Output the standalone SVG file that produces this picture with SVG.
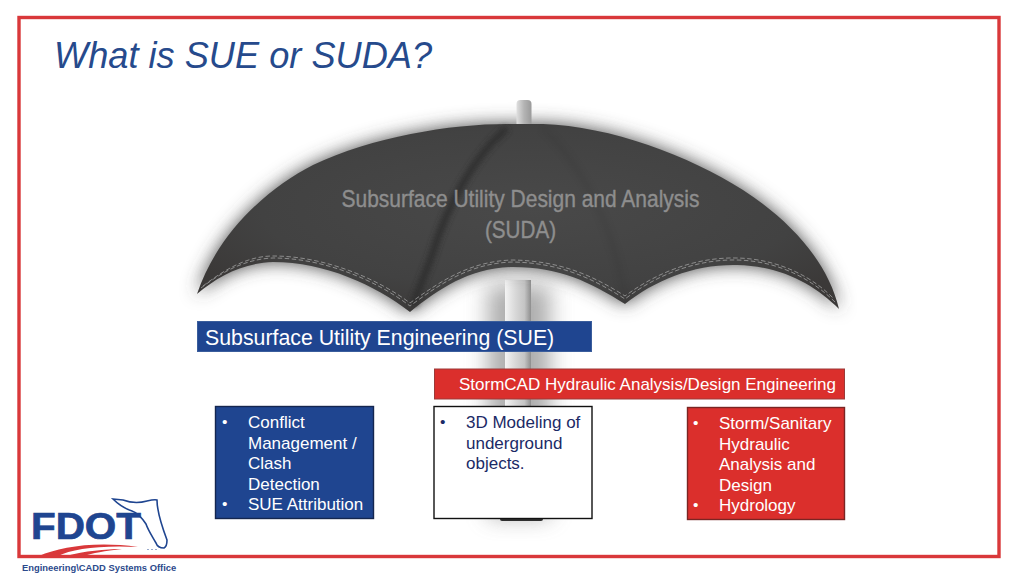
<svg xmlns="http://www.w3.org/2000/svg" width="1024" height="576" viewBox="0 0 1024 576">
<style>
text{font-family:"Liberation Sans",Arial,sans-serif}
.st{fill:none;stroke:#a0a0a0;stroke-width:.8;stroke-dasharray:4.500 2.500}
.seam{fill:none;stroke:#2e2e2e;stroke-width:8;filter:url(#b2)}
.box{stroke-width:1.4}
.n{fill:#1b2a66;font-size:17px}
.wt{fill:#fff;font-size:17px}
.bl{font-size:15.500px}
</style>
<defs>
<filter id="sh" x="-10%" y="-20%" width="120%" height="140%"><feGaussianBlur stdDeviation="9"/></filter>
<filter id="b2" x="-40%" y="-10%" width="180%" height="120%"><feGaussianBlur stdDeviation="2.500"/></filter>
<filter id="b5" x="-100%" y="-10%" width="300%" height="120%"><feGaussianBlur stdDeviation="11"/></filter>
<linearGradient id="pole" x1="0" x2="1" y1="0" y2="0">
<stop offset="0" stop-color="#f4f4f4"/><stop offset=".4" stop-color="#d8d8d8"/><stop offset=".75" stop-color="#c4c4c4"/><stop offset="1" stop-color="#8e8e8e"/>
</linearGradient>
<linearGradient id="cap" x1="0" x2="1" y1="0" y2="0">
<stop offset="0" stop-color="#e0e0e0"/><stop offset=".5" stop-color="#b4b4b4"/><stop offset="1" stop-color="#9a9a9a"/>
</linearGradient>
<radialGradient id="can" cx=".52" cy=".45" r=".6">
<stop offset="0" stop-color="#494949"/><stop offset=".7" stop-color="#424242"/><stop offset="1" stop-color="#3b3938"/>
</radialGradient>
<path id="canopy" d="M197 294C218 232 268 188 313 165C372 137 450 124 507 124L543 124C610 126 690 156 743 190C790 220 828 262 839 309C815 285 782 266 737 265C695 264 655 280 625 304C590 282 560 267 513 267C470 268 440 288 410 312C375 285 325 262 273 262C243 263 218 276 197 294Z"/>
</defs>
<rect width="1024" height="576" fill="#fff"/>
<rect x="19" y="17.500" width="980" height="539" fill="none" stroke="#d9383a" stroke-width="3.400"/>
<text x="54" y="68" font-size="36.200" font-style="italic" fill="#264a8c">What is SUE or SUDA?</text>

<g id="umbrella">
<rect x="488" y="285" width="62" height="232" fill="#777" opacity=".6" filter="url(#b5)"/>
<rect x="505" y="280" width="26" height="240" fill="url(#pole)"/>
<rect x="500" y="516" width="43" height="5" rx="2" fill="#2f2f2f"/>
<use href="#canopy" fill="#4a4a4a" filter="url(#sh)"/>
<rect x="516.500" y="100" width="15" height="29" rx="4" fill="url(#cap)"/>
<use href="#canopy" fill="url(#can)"/>
<path class="seam" d="M507 128C475 155 447 205 432 255C425 275 418 290 413 306" opacity=".8"/>
<path class="seam" d="M543 128C585 170 615 230 625 300" opacity=".12"/>
<path class="st" d="M201 288C222 272 245 259 273 258C325 258 377 281 410 306C440 284 470 263 513 262C560 263 592 278 625 299C655 276 695 259 737 260C782 261 815 282 836 303"/>
<path class="st" d="M203 286C224 270 247 256 273 256C325 256 378 279 410 303C441 281 470 261 513 260C560 261 592 275 625 296C656 273 695 257 737 258C782 259 816 280 834 299"/>
<text x="520.500" y="207" font-size="24.500" fill="#8e8e8e" stroke="#8e8e8e" stroke-width=".4" text-anchor="middle" textLength="358" lengthAdjust="spacingAndGlyphs">Subsurface Utility Design and Analysis</text>
<text x="520.500" y="238" font-size="24.500" fill="#8e8e8e" stroke="#8e8e8e" stroke-width=".4" text-anchor="middle" textLength="71" lengthAdjust="spacingAndGlyphs">(SUDA)</text>
</g>

<g id="sue-header">
<rect x="197.500" y="321.500" width="394" height="30" fill="#1f4590" stroke="#3a5d9c"/>
<text x="205" y="344.500" font-size="21.300" fill="#fff">Subsurface Utility Engineering (SUE)</text>
</g>
<g id="stormcad-header">
<rect x="434.500" y="369" width="410" height="30" fill="#db2f2c" stroke="#9b3a38"/>
<text x="459" y="390" font-size="17" fill="#fff">StormCAD Hydraulic Analysis/Design Engineering</text>
</g>
<g id="sue-list">
<rect class="box" x="215.500" y="406.500" width="158" height="112" fill="#1f4590" stroke="#14264f"/>
<g class="wt">
<text class="bl" x="222" y="427">•</text>
<text x="248" y="428">Conflict</text>
<text x="248" y="448.500">Management /</text>
<text x="248" y="469">Clash</text>
<text x="248" y="489.500">Detection</text>
<text class="bl" x="222" y="509">•</text>
<text x="248" y="510">SUE Attribution</text>
</g>
</g>
<g id="modeling-list">
<rect class="box" x="434" y="406.500" width="158" height="112" fill="#fff" stroke="#111"/>
<g class="n">
<text class="bl" x="440" y="427">•</text>
<text x="466" y="428">3D Modeling of</text>
<text x="466" y="448.500">underground</text>
<text x="466" y="469">objects.</text>
</g>
</g>
<g id="storm-list">
<rect class="box" x="687.500" y="407.500" width="157" height="112" fill="#db2f2c" stroke="#7a2523"/>
<g class="wt">
<text class="bl" x="693" y="428">•</text>
<text x="719" y="429">Storm/Sanitary</text>
<text x="719" y="449.500">Hydraulic</text>
<text x="719" y="470">Analysis and</text>
<text x="719" y="490.500">Design</text>
<text class="bl" x="693" y="510">•</text>
<text x="719" y="511">Hydrology</text>
</g>
</g>

<g id="logo">
<path d="M113 499L123 500C131 503 140 503 147 501C151 500 155 499 157 500C157 510 161 524 167 540C167 544 166 547 164 548C160 548 157 546 156 543C152 536 148 530 146 524C142 518 138 513 132 511C126 509 119 505 113 499Z" fill="#fff" stroke="#1f4590" stroke-width="1.600"/>
<circle cx="148" cy="549.500" r=".6" fill="#1f4590"/><circle cx="152" cy="549.500" r=".6" fill="#1f4590"/><circle cx="156" cy="549.500" r=".6" fill="#1f4590"/>
<text x="31" y="539" font-size="36" font-weight="bold" fill="#1f4590" textLength="110" lengthAdjust="spacingAndGlyphs" stroke="#1f4590" stroke-width=".7">FDOT</text>
<path d="M39 556C60 547 95 541 138 547C100 545 72 549 58 556Z" fill="#d9383a"/>
<path d="M66 556C85 551 105 549 122 549C105 551 92 553 84 556Z" fill="#d9383a"/>
<text x="22" y="571" font-size="9.400" font-weight="bold" fill="#2c4a8c">Engineering\CADD Systems Office</text>
</g>
</svg>
